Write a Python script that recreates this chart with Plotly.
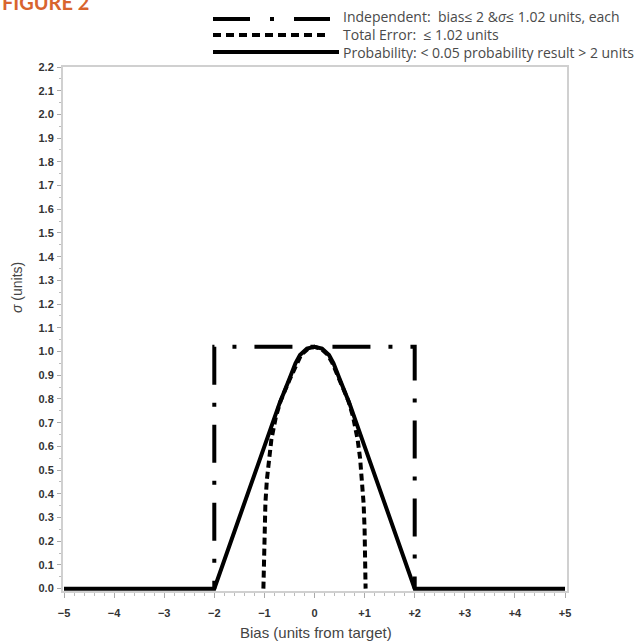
import plotly.graph_objects as go

# ---------------- data ----------------
bias_independent = [-2, -2, 2, 2]
sigma_independent = [0, 1.02, 1.02, 0]

bias_total_error = [-1.02, -1.01, -1.0, -0.98, -0.95, -0.91, -0.86, -0.77, -0.68, -0.5, -0.36, -0.27, -0.14, 0,
                    0.14, 0.27, 0.36, 0.5, 0.68, 0.77, 0.86, 0.91, 0.95, 0.98, 1.0, 1.01, 1.02]
sigma_total_error = [0, 0.12, 0.25, 0.36, 0.46, 0.55, 0.63, 0.725, 0.79, 0.88, 0.95, 0.985, 1.01, 1.02,
                     1.01, 0.985, 0.95, 0.88, 0.79, 0.725, 0.63, 0.55, 0.46, 0.36, 0.25, 0.12, 0]

bias_probability = [-5, -2, -1.5, -1.0, -0.7, -0.5, -0.38, -0.29, -0.15, 0,
                    0.15, 0.29, 0.38, 0.5, 0.7, 1.0, 1.5, 2, 5]
sigma_probability = [0, 0, 0.30, 0.60, 0.78, 0.885, 0.95, 0.985, 1.012, 1.02,
                     1.012, 0.985, 0.95, 0.885, 0.78, 0.60, 0.30, 0, 0]

x_tickvals = [-5, -4, -3, -2, -1, 0, 1, 2, 3, 4, 5]
x_ticktext = ["\u22125", "\u22124", "\u22123", "\u22122", "\u22121", "0", "+1", "+2", "+3", "+4", "+5"]
y_tickvals = [round(i * 0.1, 1) for i in range(23)]
y_ticktext = [f"{v:.1f}" for v in y_tickvals]

legend_labels = [
    "Independent:  bias\u2264 2 &<i>\u03c3</i>\u2264 1.02 units, each",
    "Total Error:  \u2264 1.02 units",
    "Probability: < 0.05 probability result > 2 units",
]

# ---------------- layout geometry ----------------
W, H = 639, 644
ML, MR, MT, MB = 63, 72, 67, 53
PW, PH = W - ML - MR, H - MT - MB


def px_x(p):
    return (p - ML) / PW


def px_y(p):
    return (H - MB - p) / PH


DASHDOT = "8px,18px,4px,18px,30px,0px"
DASHED = "7px,4px"

fig = go.Figure()
fig.add_trace(go.Scatter(x=bias_independent, y=sigma_independent, mode="lines",
                         line=dict(color="black", width=4, dash=DASHDOT), showlegend=False))
fig.add_trace(go.Scatter(x=bias_total_error, y=sigma_total_error, mode="lines",
                         line=dict(color="black", width=4, dash=DASHED), showlegend=False))
fig.add_trace(go.Scatter(x=bias_probability, y=sigma_probability, mode="lines",
                         line=dict(color="black", width=4), showlegend=False))

# legend drawn as long line samples + one three-line text block, as in the reference
legend_y = [19, 35, 52]
legend_dash = ["37px,20px,4px,20px", "8px,5px", "solid"]
legend_x_end = [330, 330, 339]
for yy, dsh, xe in zip(legend_y, legend_dash, legend_x_end):
    fig.add_shape(type="line", xref="paper", yref="paper",
                  x0=px_x(213), x1=px_x(xe), y0=px_y(yy), y1=px_y(yy),
                  line=dict(color="black", width=4, dash=dsh))
fig.add_annotation(text="<br>".join(legend_labels), xref="paper", yref="paper",
                   x=px_x(341), y=px_y(34), xanchor="left", yanchor="middle", align="left",
                   showarrow=False, font=dict(family="Open Sans", size=14, color="#4a4a4a"))

# figure label (cut at the top edge as in the reference)
fig.add_annotation(text="<b>FIGURE 2</b>", xref="paper", yref="paper", x=px_x(0), y=px_y(2),
                   xanchor="left", yanchor="middle", showarrow=False,
                   font=dict(family="Lato", size=20, color="#D8642E"))

# axis titles
fig.add_annotation(text="Bias (units from target)", xref="paper", yref="paper",
                   x=px_x(316), y=px_y(632), xanchor="center", yanchor="middle", showarrow=False,
                   font=dict(family="Liberation Sans", size=15, color="#444444"))
fig.add_annotation(text="<i>\u03c3</i> (units)", xref="paper", yref="paper",
                   x=px_x(17), y=px_y(288), xanchor="center", yanchor="middle", showarrow=False,
                   textangle=-90, font=dict(family="Liberation Sans", size=14, color="#444444"))

tickfont = dict(family="Liberation Sans", size=11, color="#333333", weight="bold")
fig.update_layout(
    width=W, height=H,
    margin=dict(l=ML, r=MR, t=MT, b=MB, pad=0),
    paper_bgcolor="white", plot_bgcolor="white",
    showlegend=False,
    xaxis=dict(range=[-5.02, 5.04], tickmode="array", tickvals=x_tickvals, ticktext=x_ticktext,
               showgrid=False, zeroline=False, showline=True, mirror=True,
               linecolor="#d0d0d0", linewidth=2,
               ticks="outside", ticklen=5, tickcolor="#aaaaaa", tickwidth=1,
               ticklabelstandoff=6, tickfont=tickfont,
               minor=dict(ticks="outside", dtick=0.2, tick0=0, ticklen=3, tickcolor="#bbbbbb", showgrid=False)),
    yaxis=dict(range=[-0.01, 2.2], tickmode="array", tickvals=y_tickvals, ticktext=y_ticktext,
               showgrid=False, zeroline=False, showline=True, mirror=True,
               linecolor="#d0d0d0", linewidth=2,
               ticks="outside", ticklen=4, tickcolor="#aaaaaa", tickwidth=1,
               ticklabelstandoff=1, tickfont=tickfont,
               minor=dict(ticks="outside", dtick=0.05, tick0=0, ticklen=2, tickcolor="#bbbbbb", showgrid=False)),
)

fig.write_html("out.html", config={"displayModeBar": False},
               post_script="document.body.style.margin='0';document.body.style.overflow='hidden';")
